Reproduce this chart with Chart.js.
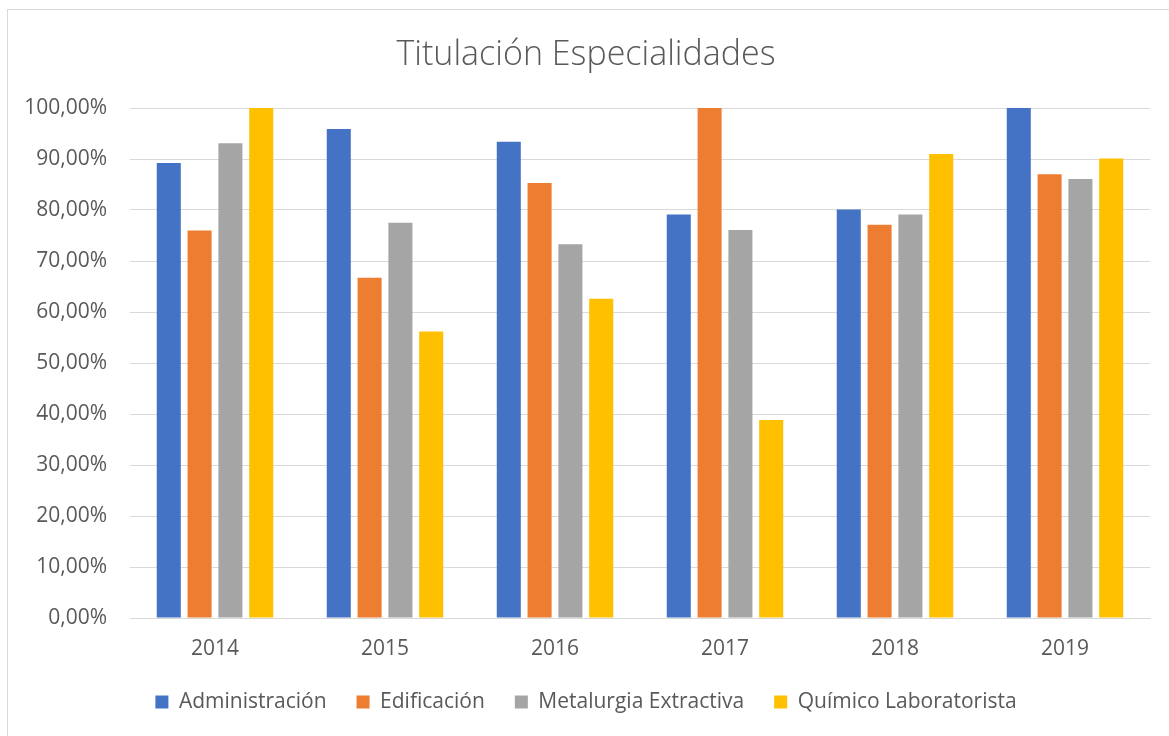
<!DOCTYPE html>
<html>
<head>
<meta charset="utf-8">
<script src="https://cdn.jsdelivr.net/npm/chart.js@4/dist/chart.umd.min.js"></script>
<style>
  html, body { margin: 0; padding: 0; background: #ffffff; overflow: hidden; }
  #wrap { width: 1169px; height: 736px; position: relative; }
</style>
</head>
<body>
<div id="wrap"><canvas id="c" width="1169" height="736"></canvas></div>
<script>
const categories = ['2014', '2015', '2016', '2017', '2018', '2019'];
const administracion = [89.2, 95.9, 93.4, 79.1, 80.1, 100];
const edificacion = [76.0, 66.7, 85.3, 100, 77.1, 87.0];
const metalurgiaExtractiva = [93.1, 77.5, 73.3, 76.1, 79.1, 86.1];
const quimicoLaboratorista = [100, 56.2, 62.6, 38.8, 91.0, 90.1];
const yTickLabels = ['0,00%', '10,00%', '20,00%', '30,00%', '40,00%', '50,00%', '60,00%', '70,00%', '80,00%', '90,00%', '100,00%'];
const titleText = 'Titulación Especialidades';

const FONT = "'Open Sans', 'Noto Sans', sans-serif";
const TEXT = '#595959';

const borderPlugin = {
  id: 'outerBorder',
  beforeDraw(chart) {
    const ctx = chart.ctx;
    ctx.save();
    ctx.fillStyle = '#ffffff';
    ctx.fillRect(0, 0, chart.width, chart.height);
    ctx.strokeStyle = '#d9d9d9';
    ctx.lineWidth = 1;
    ctx.strokeRect(7.5, 9.5, 1400, 1000);
    ctx.restore();
  }
};

new Chart(document.getElementById('c'), {
  type: 'bar',
  data: {
    labels: categories,
    datasets: [
      { label: 'Administración', data: administracion, backgroundColor: '#4472C4' },
      { label: 'Edificación', data: edificacion, backgroundColor: '#ED7D31' },
      { label: 'Metalurgia Extractiva', data: metalurgiaExtractiva, backgroundColor: '#A5A5A5' },
      { label: 'Químico Laboratorista', data: quimicoLaboratorista, backgroundColor: '#FFC000' }
    ]
  },
  options: {
    responsive: false,
    animation: false,
    devicePixelRatio: 1,
    layout: { padding: { left: 22, right: 19, top: 0, bottom: 13.5 } },
    datasets: { bar: { categoryPercentage: 0.725, barPercentage: 0.78 } },
    scales: {
      x: {
        afterFit(scale) { scale.height = 43.5; },
        grid: { display: false, drawTicks: false },
        border: { display: true, color: '#d9d9d9', width: 1 },
        ticks: { color: TEXT, font: { family: FONT, size: 21 }, padding: 18 }
      },
      y: {
        min: 0, max: 100,
        afterFit(scale) { scale.width = 108; },
        grid: { color: '#d9d9d9', lineWidth: 1, drawTicks: false },
        border: { display: false },
        ticks: {
          stepSize: 10,
          color: TEXT,
          font: { family: FONT, size: 21 },
          padding: 23,
          callback: (v) => yTickLabels[Math.round(v / 10)]
        }
      }
    },
    plugins: {
      title: {
        display: true,
        text: titleText,
        color: TEXT,
        font: { family: FONT, size: 34, weight: '300' },
        padding: { top: 34.6, bottom: 32.6 }
      },
      legend: {
        position: 'bottom',
        labels: {
          color: TEXT,
          font: { family: FONT, size: 21 },
          boxWidth: 13,
          boxHeight: 13,
          padding: 30
        }
      },
      tooltip: { enabled: false }
    }
  },
  plugins: [borderPlugin]
});
</script>
</body>
</html>
